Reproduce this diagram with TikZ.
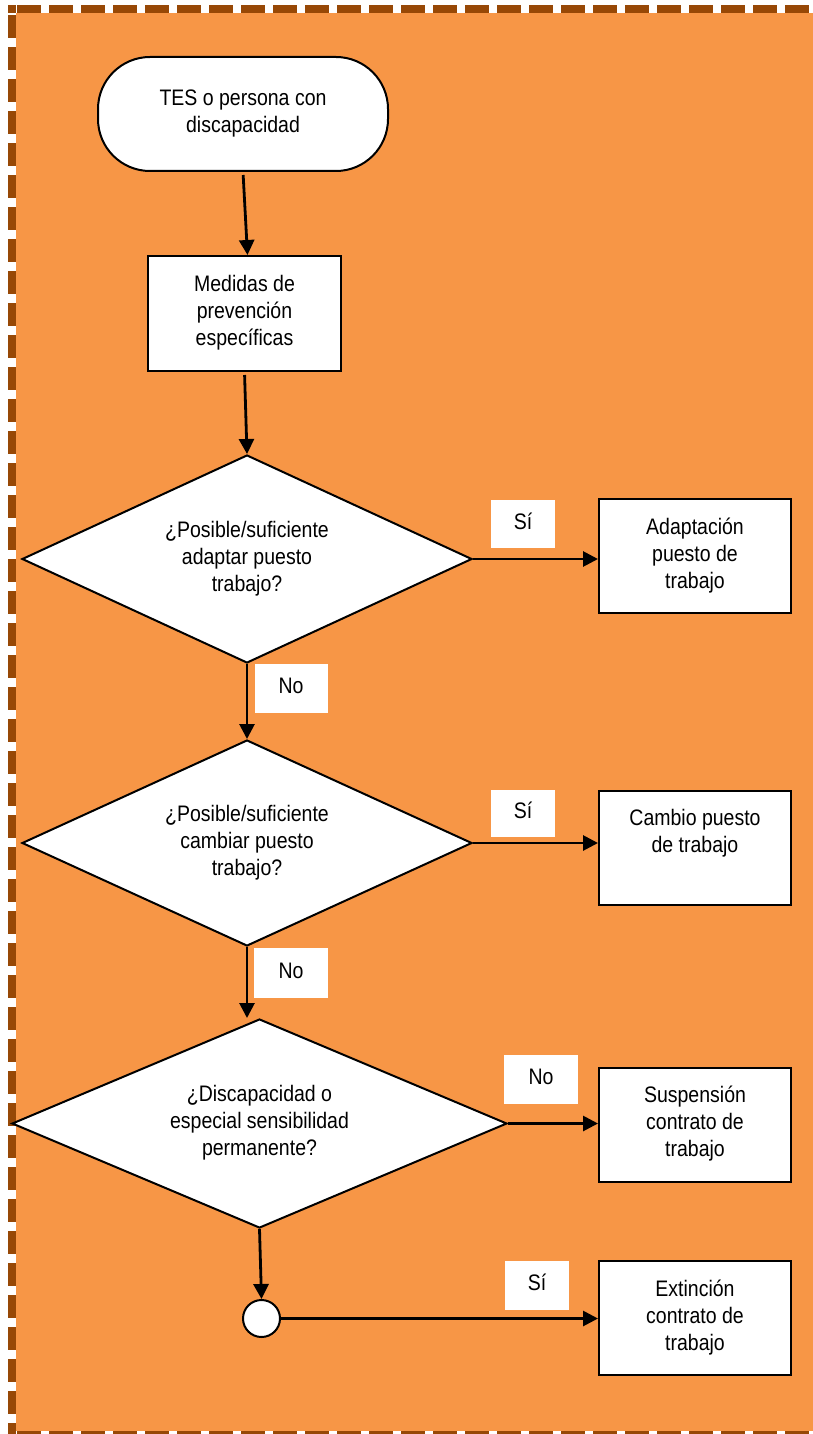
\documentclass[tikz,border=0pt]{standalone}
\usepackage{fontspec}
\usepackage{graphicx}
\setmainfont{Liberation Sans}
\usetikzlibrary{shapes.geometric,arrows.meta,calc}
\definecolor{panel}{HTML}{F79646}
\definecolor{rim}{HTML}{974806}
% slightly tall lettering, lines centred
\newcommand\tallText[1]{\scalebox{1}[1.15]{\begin{tabular}{@{}c@{}}#1\end{tabular}}}

\begin{document}
\begin{tikzpicture}[x=1pt,y=-1pt,
  every node/.style={font=\fontsize{19.5}{23.5}\selectfont, align=center, inner sep=0pt},
  procbox/.style={draw=black, line width=2pt, fill=white, rectangle,
    minimum width=192pt, minimum height=114pt},
  startbox/.style={draw=black, line width=2pt, fill=white, rectangle,
    rounded corners=52pt, minimum width=290pt, minimum height=114pt},
  decision/.style={draw=black, line width=2pt, fill=white, diamond, aspect=2.2},
  tag/.style={fill=white, minimum height=48pt},
  joint/.style={draw=black, line width=2pt, fill=white, circle, minimum size=37pt},
  flow/.style={line width=2.8pt, -{Triangle[length=15pt,width=15pt]}},
  rimdash/.style={fill=rim}
]
\useasboundingbox (0,0) rectangle (813,1434);

% panel
\fill[panel] (16,13) rectangle (813,1431);
% dashed frame: top, left and bottom runs
\foreach \k in {0,...,24} {
  \fill[rimdash] ({17+32*\k},5) rectangle ({41+32*\k},13);
  \fill[rimdash] ({17+32*\k},1431) rectangle ({41+32*\k},1434);
}
\fill[rimdash] (8,5) rectangle (16,13);
\foreach \k in {0,...,44} {
  \fill[rimdash] (8,{15+32*\k}) rectangle (16,{38+32*\k});
}

% main column
\node[startbox] (term) at (243,114) {\tallText{TES o persona con\\discapacidad}};
\node[procbox, minimum width=193pt, minimum height=115pt] (med) at (244.5,313.5)
  {\tallText{Medidas de\\prevención\\específicas}};

\node[decision, minimum width=450pt, minimum height=208pt] (d1) at (247,559)
  {\tallText{¿Posible/suficiente\\adaptar puesto\\trabajo?}};
\node[decision, minimum width=450pt, minimum height=206pt] (d2) at (247,843)
  {\tallText{¿Posible/suficiente\\cambiar puesto\\trabajo?}};
\node[decision, minimum width=495pt, minimum height=209pt] (d3) at (259.5,1123.5)
  {\tallText{¿Discapacidad o\\especial sensibilidad\\permanente?}};
\node[joint] (dot) at (261.5,1318.5) {};

% outcomes
\node[procbox] (adapt) at (695,556) {\tallText{Adaptación\\puesto de\\trabajo}};
\node[procbox] (cambio) at (695,847.5) {\tallText{Cambio puesto\\de trabajo\\~}};
\node[procbox] (susp) at (695,1124.5) {\tallText{Suspensión\\contrato de\\trabajo}};
\node[procbox] (extin) at (695,1318) {\tallText{Extinción\\contrato de\\trabajo}};

% answer tags
\node[tag, minimum width=64pt] (si1) at (523,524) {\tallText{Sí}};
\node[tag, minimum width=73pt, minimum height=49pt] (no1) at (291,688.5) {\tallText{No}};
\node[tag, minimum width=64pt, minimum height=47pt] (si2) at (523,813.5) {\tallText{Sí}};
\node[tag, minimum width=74pt, minimum height=50pt] (no2) at (291,973) {\tallText{No}};
\node[tag, minimum width=74pt, minimum height=49pt] (no3) at (541,1079.5) {\tallText{No}};
\node[tag, minimum width=64pt, minimum height=49pt] (si3) at (537,1285.5) {\tallText{Sí}};

% connectors
\draw[flow, shorten <=3pt] (term.south) -- ([xshift=3pt]med.north);
\draw[flow, shorten <=3pt] (med.south) -- (d1.north);
\draw[flow] (d1.east) -- (d1.east -| adapt.west);
\draw[flow] (d1.south) -- (d2.north);
\draw[flow] (d2.east) -- (d2.east -| cambio.west);
\draw[flow] (d2.south) -- (d2.south |- d3.north);
\draw[flow] (d3.east) -- (d3.east -| susp.west);
\draw[flow] (d3.south) -- (dot.north);
\draw[flow] (dot.east) -- (dot.east -| extin.west);
\end{tikzpicture}
\end{document}
